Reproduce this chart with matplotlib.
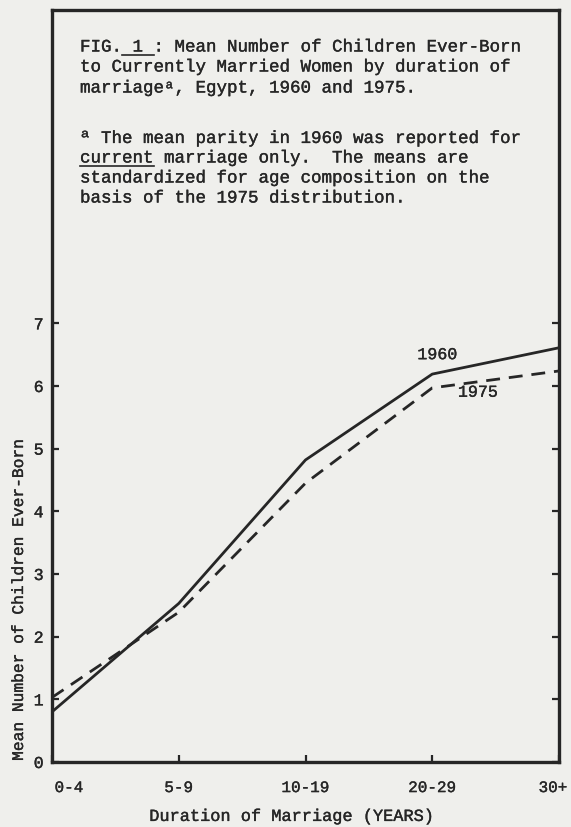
import matplotlib
matplotlib.use("Agg")
import matplotlib.pyplot as plt
import matplotlib.patheffects as pe
from matplotlib.lines import Line2D
from matplotlib.transforms import ScaledTranslation

# Mean number of children ever born, by duration of marriage
durations = ["0-4", "5-9", "10-19", "20-29", "30+"]
parity_1960 = [0.80, 2.53, 4.82, 6.19, 6.61]
parity_1975 = [1.03, 2.39, 4.45, 5.97, 6.24]
y_ticks = [0, 1, 2, 3, 4, 5, 6, 7]

title_lines = [
    "FIG. 1 : Mean Number of Children Ever-Born",
    "to Currently Married Women by duration of",
    "marriage\u1d43, Egypt, 1960 and 1975.",
]
note_lines = [
    "\u00aa The mean parity in 1960 was reported for",
    "current marriage only.  The means are",
    "standardized for age composition on the",
    "basis of the 1975 distribution.",
]

ink = "#262626"
paper = "#efefec"
mono = ["Liberation Mono", "DejaVu Sans Mono"]
heavy = [pe.withStroke(linewidth=0.25, foreground=ink)]

W, H = 571, 827
fig = plt.figure(figsize=(W / 100, H / 100), dpi=100, facecolor=paper)
ax = fig.add_axes([52 / W, 1 - 762 / H, (559 - 52) / W, (762 - 10) / H])
ax.set_facecolor(paper)

x = list(range(len(durations)))
ax.plot(x, parity_1960, color=ink, lw=2.0, solid_joinstyle="round")
ax.plot(x, parity_1975, color=ink, lw=2.0, dashes=(5, 3.2))

ax.set_xlim(0, len(durations) - 1)
ax.set_ylim(0, 12)
ax.set_xticks(x)
ax.set_xticklabels(durations, family=mono, fontsize=11.5, color=ink)
ax.set_yticks(y_ticks)
ax.set_yticklabels([str(v) for v in y_ticks], family=mono, fontsize=12, color=ink)
ax.tick_params(axis="both", direction="in", length=5, width=1.6, color=ink)
ax.tick_params(axis="x", pad=13)
ax.tick_params(axis="y", pad=6, right=True)
for s in ax.spines.values():
    s.set_linewidth(2.4)
    s.set_color(ink)

# nudge the end labels so they sit inside the frame edges
xlabels = ax.get_xticklabels()
xlabels[0].set_transform(xlabels[0].get_transform()
                         + ScaledTranslation(0.17, 0, fig.dpi_scale_trans))
xlabels[-1].set_transform(xlabels[-1].get_transform()
                          + ScaledTranslation(-0.06, 0, fig.dpi_scale_trans))
for t in ax.get_xticklabels() + ax.get_yticklabels():
    t.set_path_effects(heavy)

ax.set_xlabel("Duration of Marriage (YEARS)", family=mono, fontsize=12.2,
              color=ink, labelpad=10, path_effects=heavy)
ax.xaxis.label.set_x((291 - 52) / 507)
ax.set_ylabel("Mean Number of Children Ever-Born", family=mono, fontsize=11.7,
              color=ink, path_effects=heavy)
ax.yaxis.set_label_coords((26 - 52) / 507, (762 - 600) / 752)

# series labels
ax.text(3.04, 6.5, "1960", family=mono, fontsize=12, color=ink,
        ha="center", va="center", path_effects=heavy)
ax.text(3.36, 5.9, "1975", family=mono, fontsize=12, color=ink,
        ha="center", va="center", path_effects=heavy)

# caption block inside the frame
fs = 12.6
cw = 0.6 * fs * 100 / 72  # monospace advance in pixels
x0 = 80
for txt, yy in zip(title_lines, [47, 67, 88]):
    fig.text(x0 / W, 1 - yy / H, txt, family=mono, fontsize=fs, color=ink,
             va="center", ha="left", path_effects=heavy)
for txt, yy in zip(note_lines, [138, 158, 178, 198]):
    fig.text(x0 / W, 1 - yy / H, txt, family=mono, fontsize=fs, color=ink,
             va="center", ha="left", path_effects=heavy)

# typed underlines
for c0, c1, yy in [(4, 7, 55), (0, 7, 166)]:
    fig.add_artist(Line2D([(x0 + c0 * cw) / W, (x0 + c1 * cw) / W],
                          [1 - yy / H, 1 - yy / H], color=ink, lw=1.2,
                          transform=fig.transFigure))

fig.savefig("out.png", dpi=100, facecolor=paper)
